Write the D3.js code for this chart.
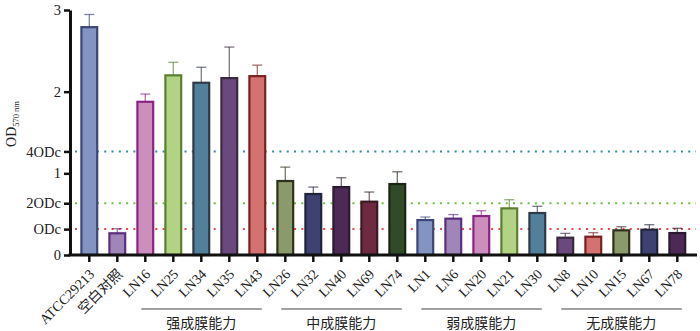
<!DOCTYPE html>
<html><head><meta charset="utf-8">
<script src="https://cdn.jsdelivr.net/npm/d3@7"></script>
<style>body{margin:0;background:#fff}svg{display:block}</style>
</head><body><svg id="c" width="700" height="331"></svg>
<script>
const categories = ["ATCC29213","空白对照","LN16","LN25","LN34","LN35","LN43","LN26","LN32","LN40","LN69","LN74","LN1","LN6","LN20","LN21","LN30","LN8","LN10","LN15","LN67","LN78"];
const values = [2.79,0.266,1.876,2.20,2.109,2.166,2.19,0.906,0.747,0.832,0.653,0.869,0.428,0.445,0.477,0.571,0.514,0.212,0.224,0.302,0.31,0.269];
const errors = [0.155,0.056,0.095,0.16,0.19,0.38,0.135,0.17,0.085,0.114,0.118,0.15,0.037,0.05,0.065,0.106,0.082,0.053,0.049,0.044,0.061,0.058];
const fillColors = ["#8494c2","#9f85b8","#cc8fbd","#b3d384","#52809a","#6a4a7e","#d47272","#8a9a6a","#3d4270","#4c2a55","#6e2a40","#304a2a"];
const strokeColors = ["#3c4677","#5a2f7e","#8b2383","#5a7f2e","#2f3a48","#3a2a40","#7a2020","#2e301e","#22253a","#2a1a30","#3a1a22","#1a2515"];
const ODc = 0.317;
const refMultiples = [1, 2, 4];
const refColors = ["#ee4747","#6cc040","#2e8aa8"];
const yTickValues = [0, ODc, 2*ODc, 1, 4*ODc, 2, 3];
const yTickLabels = ["0","ODc","2ODc","1","4ODc","2","3"];
const groupLabels = ["强成膜能力","中成膜能力","弱成膜能力","无成膜能力"];
const groupFrom = ["LN16","LN26","LN1","LN8"];
const groupTo = ["LN43","LN74","LN30","LN78"];

const FONT = '"Liberation Serif","Noto Sans CJK SC",serif';
const svg = d3.select("#c");
const x = d3.scaleBand().domain(categories).range([75.3, 691.3]).paddingInner(0.4).paddingOuter(0.2);
const y = d3.scaleLinear().domain([0, 3]).range([255, 10]);

// reference lines
svg.append("g").selectAll("line").data(refMultiples).join("line")
  .attr("x1", 75).attr("x2", 696)
  .attr("y1", d => y(d*ODc)).attr("y2", d => y(d*ODc))
  .attr("stroke", (d,i) => refColors[i]).attr("stroke-width", 2)
  .attr("stroke-dasharray", "2,5.3");

const data = categories.map((c,i) => ({c, v: values[i], e: errors[i], fill: fillColors[i%12], stroke: strokeColors[i%12]}));

// error bars
const eb = svg.append("g").selectAll("g").data(data).join("g");
eb.append("line")
  .attr("x1", d => x(d.c)+x.bandwidth()/2).attr("x2", d => x(d.c)+x.bandwidth()/2)
  .attr("y1", d => y(d.v)).attr("y2", d => y(d.v+d.e))
  .attr("stroke", d => d.stroke).attr("stroke-opacity", 0.65).attr("stroke-width", 1.3);
eb.append("line")
  .attr("x1", d => x(d.c)+x.bandwidth()/2-5).attr("x2", d => x(d.c)+x.bandwidth()/2+5)
  .attr("y1", d => y(d.v+d.e)).attr("y2", d => y(d.v+d.e))
  .attr("stroke", d => d.stroke).attr("stroke-opacity", 0.65).attr("stroke-width", 1.3);

// bars
svg.append("g").selectAll("rect").data(data).join("rect")
  .attr("x", d => x(d.c)+0.5).attr("width", x.bandwidth()-1)
  .attr("y", d => y(d.v)).attr("height", d => y(0)-y(d.v))
  .attr("fill", d => d.fill).attr("stroke", d => d.stroke).attr("stroke-width", 2.2);

// y axis
const yAxis = svg.append("g").attr("transform","translate(70,0)")
  .call(d3.axisLeft(y).tickValues(yTickValues).tickFormat((d,i)=>yTickLabels[i]).tickSize(6).tickSizeOuter(0).tickPadding(3));
yAxis.select(".domain").attr("stroke","#111").attr("stroke-width",3);
yAxis.selectAll(".tick line").attr("stroke","#111").attr("stroke-width",2.5);
yAxis.selectAll(".tick text").attr("font-family",FONT).attr("font-size",14.5).attr("fill","#222");

// x axis
const xAxis = svg.append("g").attr("transform","translate(0,255)")
  .call(d3.axisBottom(x).tickSize(7).tickSizeOuter(0));
xAxis.select(".domain").remove();
xAxis.append("line").attr("x1",68.5).attr("x2",697).attr("stroke","#111").attr("stroke-width",3);
xAxis.selectAll(".tick line").attr("stroke","#111").attr("stroke-width",2.5);
xAxis.selectAll(".tick text")
  .attr("font-family",FONT).attr("font-size",14).attr("fill","#222")
  .attr("text-anchor","end").attr("dy",0)
  .attr("transform","translate(6,20) rotate(-45)")
  .attr("y",0).attr("x",0);

// y label
const yl = svg.append("text").attr("transform","translate(16,124) rotate(-90)")
  .attr("text-anchor","middle").attr("font-family",FONT).attr("font-size",14).attr("fill","#222");
yl.append("tspan").text("OD");
yl.append("tspan").attr("font-size",8.5).attr("dy",3).text("570 nm");

// group brackets
const gg = svg.append("g").selectAll("g").data(groupLabels).join("g");
gg.append("line")
  .attr("x1",(d,i)=>x(groupFrom[i])+x.bandwidth()/2-4)
  .attr("x2",(d,i)=>x(groupTo[i])+x.bandwidth()/2+4.5)
  .attr("y1",309).attr("y2",309).attr("stroke","#444").attr("stroke-width",1);
gg.append("text")
  .attr("x",(d,i)=>(x(groupFrom[i])+x(groupTo[i]))/2+x.bandwidth()/2)
  .attr("y",328).attr("text-anchor","middle")
  .attr("font-family",FONT).attr("font-size",14).attr("fill","#222").text(d=>d);
</script></body></html>
